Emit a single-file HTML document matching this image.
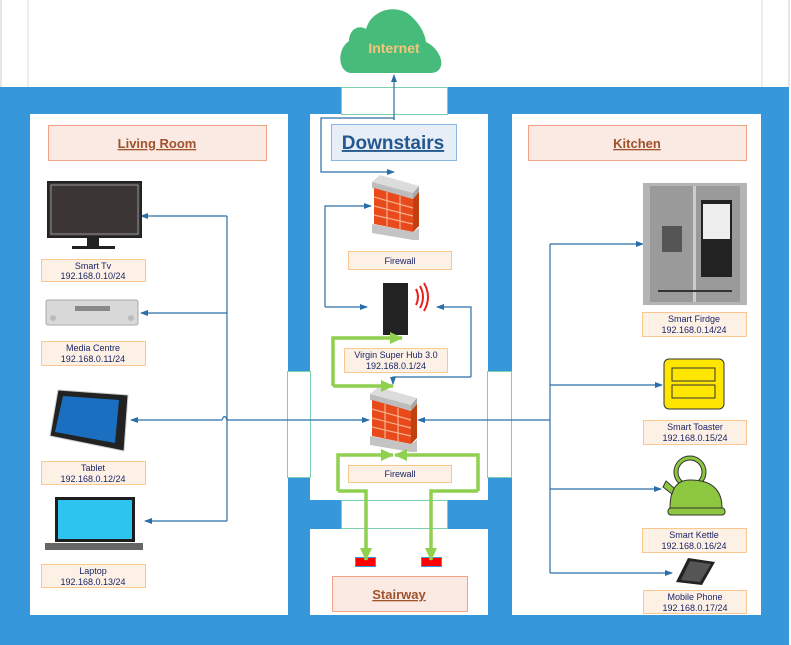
<!DOCTYPE html>
<html><head><meta charset="utf-8"><style>
html,body{margin:0;padding:0;background:#fff;}
svg{display:block;font-family:"Liberation Sans",sans-serif;}
.lb{fill:#fdf1e5;stroke:#f9c78f;stroke-width:1}
.lt{font-size:9px;fill:#1b2466;text-anchor:middle}
.bl{stroke:#2a6ea8;stroke-width:1.2;fill:none}
.gr{stroke:#8fd14f;stroke-width:3.5;fill:none}
</style></head><body>
<svg width="791" height="645" viewBox="0 0 791 645" xmlns="http://www.w3.org/2000/svg">
<defs>
<marker id="a" markerWidth="8" markerHeight="8" refX="7" refY="4" orient="auto" markerUnits="userSpaceOnUse"><path d="M0,1 L8,4 L0,7 z" fill="#2a6ea8"/></marker>
<marker id="g" markerWidth="14" markerHeight="14" refX="12" refY="7" orient="auto" markerUnits="userSpaceOnUse"><path d="M0,1 L13,7 L0,13 z" fill="#8fd14f"/></marker>
</defs>
<line x1="1" y1="0" x2="1" y2="87" stroke="#ccc"/>
<line x1="28" y1="0" x2="28" y2="87" stroke="#ddd"/>
<line x1="762" y1="0" x2="762" y2="87" stroke="#ddd"/>
<line x1="789" y1="0" x2="789" y2="87" stroke="#ccc"/>
<rect x="0" y="87" width="789" height="558" fill="#3797db"/>
<rect x="30" y="114" width="258" height="501" fill="#fff"/>
<rect x="310" y="114" width="178" height="386" fill="#fff"/>
<rect x="310" y="529" width="178" height="86" fill="#fff"/>
<rect x="512" y="114" width="249" height="501" fill="#fff"/>
<rect x="341.5" y="87.5" width="106" height="27" fill="#fff" stroke="#7dcfae"/>
<rect x="341.5" y="500.5" width="106" height="28" fill="#fff" stroke="#7dcfae"/>
<rect x="287.5" y="371.5" width="23" height="106" fill="#fff" stroke="#7dcfae"/>
<rect x="487.5" y="371.5" width="24" height="106" fill="#fff" stroke="#7dcfae"/>

<path d="M352,73 C338,73 336,50 349,41 C349,30 358,24 366,29 C372,8 398,4 411,16 C420,24 425,34 426,42 C443,50 448,73 430,73 Z" fill="#47bb7a"/>
<text x="394" y="53" font-size="14" font-weight="bold" fill="#f6c57a" text-anchor="middle">Internet</text>

<rect x="48.5" y="125.5" width="218" height="35" fill="#fbeae3" stroke="#f2a386"/>
<text x="157" y="148" font-size="13" font-weight="bold" fill="#a0522d" text-anchor="middle" text-decoration="underline">Living Room</text>
<rect x="331.5" y="124.5" width="125" height="36" fill="#e7eef8" stroke="#8ab6e2"/>
<text x="393" y="149" font-size="19" font-weight="bold" fill="#24598f" text-anchor="middle" text-decoration="underline">Downstairs</text>
<rect x="528.5" y="125.5" width="218" height="35" fill="#fbeae3" stroke="#f2a386"/>
<text x="637" y="148" font-size="13" font-weight="bold" fill="#a0522d" text-anchor="middle" text-decoration="underline">Kitchen</text>
<rect x="332.5" y="576.5" width="135" height="35" fill="#fbeae3" stroke="#f2a386"/>
<text x="399" y="599" font-size="13" font-weight="bold" fill="#a0522d" text-anchor="middle" text-decoration="underline">Stairway</text>

<g id="fw1">
<polygon points="372,182 380,175 419,186 413,193" fill="#dcdcdc"/>
<polygon points="372,182 413,193 413,199 372,188" fill="#bdbdbd"/>
<polygon points="413,193 419,186 419,192 413,199" fill="#a8a8a8"/>
<polygon points="374,188 413,199 413,232 374,224" fill="#e84a1c"/>
<polygon points="413,199 419,192 419,226 413,232" fill="#c0400f"/>
<g stroke="#f7b08a" stroke-width="1.2"><line x1="374" y1="197" x2="413" y2="208"/><line x1="374" y1="206" x2="413" y2="216"/><line x1="374" y1="215" x2="413" y2="224"/><line x1="387" y1="192" x2="387" y2="226"/><line x1="400" y1="196" x2="400" y2="229"/></g>
<polygon points="372,224 413,232 419,228 419,240 413,240 372,233" fill="#c4c4c4"/>
</g>
<use href="#fw1" transform="translate(-2,212)"/>

<rect x="383" y="283" width="25" height="52" fill="#222"/>
<path d="M416,289 Q420,297 416,305 M420,286 Q426,297 420,308 M424,283 Q432,297 424,311" stroke="#e82020" stroke-width="2" fill="none"/>

<rect class="lb" x="348.5" y="251.5" width="103" height="18"/><text class="lt" x="400" y="264">Firewall</text>
<rect class="lb" x="344.5" y="348.5" width="103" height="24"/><text class="lt" x="396" y="358">Virgin Super Hub 3.0</text><text class="lt" x="396" y="369">192.168.0.1/24</text>
<rect class="lb" x="348.5" y="465.5" width="103" height="17"/><text class="lt" x="400" y="477">Firewall</text>

<rect x="355.5" y="557.5" width="20" height="9" fill="#f00" stroke="#3797db"/>
<rect x="421.5" y="557.5" width="20" height="9" fill="#f00" stroke="#3797db"/>

<path class="bl" d="M394,120 V118 H321 V172 H394" marker-end="url(#a)"/>
<path class="bl" d="M394,120 V75" marker-end="url(#a)"/>
<path class="bl" d="M325,307 V206 H371" marker-end="url(#a)"/>
<path class="bl" d="M325,307 H367" marker-end="url(#a)"/>
<path class="bl" d="M471,377 V307 H437" marker-end="url(#a)"/>
<path class="bl" d="M471,377 H393 V384" marker-end="url(#a)"/>
<path class="bl" d="M227,420 H369" marker-end="url(#a)"/>
<path class="bl" d="M222,420 H131" marker-end="url(#a)"/>
<path d="M222,420 Q224.5,413 227,420" stroke="#2a6ea8" stroke-width="1.2" fill="none"/>
<path class="bl" d="M227,216 V521"/>
<path class="bl" d="M227,216 H141" marker-end="url(#a)"/>
<path class="bl" d="M227,313 H141" marker-end="url(#a)"/>
<path class="bl" d="M227,521 H145" marker-end="url(#a)"/>
<path class="bl" d="M550,420 H418" marker-end="url(#a)"/>
<path class="bl" d="M550,244 V573"/>
<path class="bl" d="M550,244 H643" marker-end="url(#a)"/>
<path class="bl" d="M550,385 H662" marker-end="url(#a)"/>
<path class="bl" d="M550,489 H661" marker-end="url(#a)"/>
<path class="bl" d="M550,573 H672" marker-end="url(#a)"/>

<path class="gr" d="M333,386 V338 H402" marker-end="url(#g)"/>
<path class="gr" d="M333,386 H393" marker-end="url(#g)"/>
<path class="gr" d="M338,491 V455 H393" marker-end="url(#g)"/>
<path class="gr" d="M338,491 H366 V560" marker-end="url(#g)"/>
<path class="gr" d="M478,491 V455 H395" marker-end="url(#g)"/>
<path class="gr" d="M478,491 H431 V560" marker-end="url(#g)"/>

<rect x="48" y="182" width="93" height="55" fill="#3b3535" stroke="#222" stroke-width="2"/>
<rect x="51" y="185" width="87" height="49" fill="none" stroke="#aaa" stroke-width="0.8"/>
<rect x="87" y="237" width="12" height="10" fill="#222"/>
<rect x="72" y="246" width="43" height="3" fill="#222"/>
<rect x="46" y="300" width="92" height="25" rx="2" fill="#d8d8d8" stroke="#aaa"/>
<rect x="75" y="306" width="35" height="5" fill="#888"/>
<circle cx="53" cy="318" r="3" fill="#bbb"/><circle cx="131" cy="318" r="3" fill="#bbb"/>
<polygon points="58,390 128,395 124,451 50,436" fill="#222" stroke="#ccc"/>
<polygon points="63,396 119,400 115,443 55,432" fill="#1a6fc0"/>
<rect x="55" y="497" width="80" height="45" fill="#1d1d1d"/>
<rect x="58" y="500" width="74" height="39" fill="#2ec4f0"/>
<rect x="45" y="543" width="98" height="7" fill="#666"/>
<rect class="lb" x="41.5" y="259.5" width="104" height="22"/><text class="lt" x="93" y="269">Smart Tv</text><text class="lt" x="93" y="279">192.168.0.10/24</text>
<rect class="lb" x="41.5" y="341.5" width="104" height="24"/><text class="lt" x="93" y="351">Media Centre</text><text class="lt" x="93" y="362">192.168.0.11/24</text>
<rect class="lb" x="41.5" y="461.5" width="104" height="23"/><text class="lt" x="93" y="471">Tablet</text><text class="lt" x="93" y="482">192.168.0.12/24</text>
<rect class="lb" x="41.5" y="564.5" width="104" height="23"/><text class="lt" x="93" y="574">Laptop</text><text class="lt" x="93" y="585">192.168.0.13/24</text>

<rect x="643" y="183" width="104" height="122" fill="#b4b4b4"/>
<rect x="650" y="186" width="90" height="116" fill="#9a9a9a"/>
<rect x="701" y="200" width="31" height="77" fill="#222"/><rect x="703" y="204" width="27" height="35" fill="#eee"/>
<rect x="662" y="226" width="20" height="26" fill="#555"/>
<rect x="693" y="186" width="3" height="116" fill="#ccc"/>
<rect x="658" y="290" width="74" height="2" fill="#333"/>
<rect x="664" y="359" width="60" height="50" rx="5" fill="#ffe600" stroke="#333"/>
<rect x="672" y="368" width="43" height="13" fill="#ffe600" stroke="#333"/>
<rect x="672" y="385" width="43" height="13" fill="#ffe600" stroke="#333"/>
<circle cx="690" cy="472" r="14" fill="none" stroke="#333" stroke-width="5"/>
<circle cx="690" cy="472" r="14" fill="none" stroke="#8dc63f" stroke-width="3"/>
<path d="M670,508 Q670,480 690,480 Q722,480 722,508 Z" fill="#8dc63f" stroke="#333"/>
<rect x="668" y="508" width="57" height="7" rx="3" fill="#8dc63f" stroke="#333"/>
<polygon points="666,481 674,488 672,494 663,487" fill="#8dc63f" stroke="#333"/>
<polygon points="676,582 688,558 715,562 702,585" fill="#222"/>
<polygon points="681,580 690,561 711,564 700,582" fill="#555"/>
<rect class="lb" x="642.5" y="312.5" width="104" height="24"/><text class="lt" x="694" y="322">Smart Firdge</text><text class="lt" x="694" y="333">192.168.0.14/24</text>
<rect class="lb" x="643.5" y="420.5" width="103" height="24"/><text class="lt" x="695" y="430">Smart Toaster</text><text class="lt" x="695" y="441">192.168.0.15/24</text>
<rect class="lb" x="642.5" y="528.5" width="104" height="24"/><text class="lt" x="694" y="538">Smart Kettle</text><text class="lt" x="694" y="549">192.168.0.16/24</text>
<rect class="lb" x="643.5" y="590.5" width="103" height="23"/><text class="lt" x="695" y="600">Mobile Phone</text><text class="lt" x="695" y="611">192.168.0.17/24</text>
</svg>
</body></html>
